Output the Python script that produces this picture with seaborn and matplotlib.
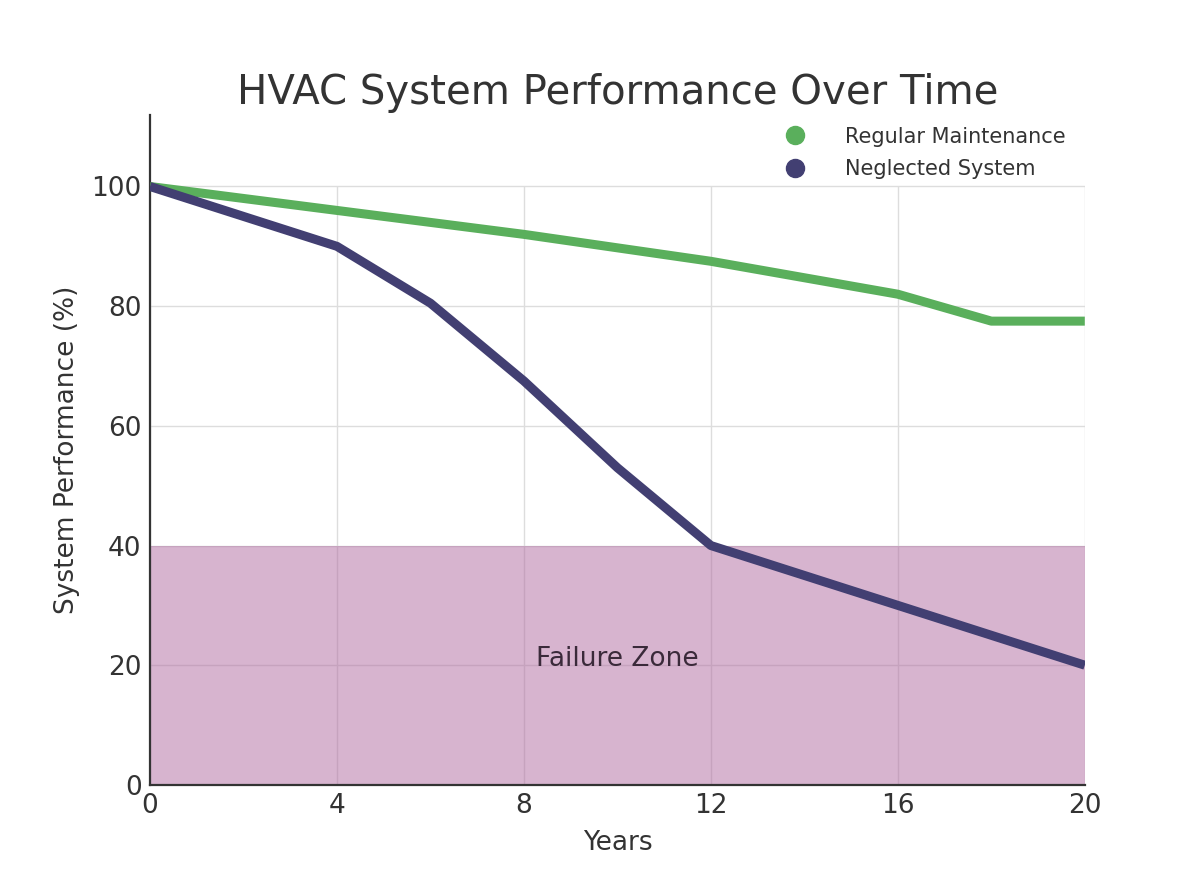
import matplotlib
matplotlib.use("Agg")
import matplotlib.pyplot as plt
import seaborn as sns
import pandas as pd

years_regular = [0, 4, 8, 12, 16, 18, 20]
perf_regular = [100, 96, 92, 87.5, 82, 77.5, 77.5]
years_neglected = [0, 4, 6, 8, 10, 12, 16, 20]
perf_neglected = [100, 90, 80.5, 67.5, 53, 40, 30, 20]
series_names = ["Regular Maintenance", "Neglected System"]
x_ticks = [0, 4, 8, 12, 16, 20]
y_ticks = [0, 20, 40, 60, 80, 100]
failure_threshold = 40

df = pd.concat([
    pd.DataFrame({"Years": years_regular, "Perf": perf_regular, "Series": series_names[0]}),
    pd.DataFrame({"Years": years_neglected, "Perf": perf_neglected, "Series": series_names[1]}),
])

sns.set_theme(style="white")
plt.rcParams['font.family'] = ['DejaVu Sans']
txt = "#333333"

fig = plt.figure(figsize=(12, 8.96), dpi=100)
ax = fig.add_axes([0.125, 0.124, 0.779, 0.748])

# grid confined to the data box
ax.vlines(x_ticks, min(y_ticks), max(y_ticks), color="#dddddd", lw=1, zorder=0)
ax.hlines(y_ticks, min(x_ticks), max(x_ticks), color="#dddddd", lw=1, zorder=0)
ax.axhspan(0, failure_threshold, color="#b06aa0", alpha=0.5, lw=0, zorder=1)

palette = {series_names[0]: "#5aaf5c", series_names[1]: "#423f72"}
sns.lineplot(data=df, x="Years", y="Perf", hue="Series", palette=palette,
             linewidth=6.5, ax=ax, legend=False, zorder=3, solid_capstyle="butt")

for name in series_names:
    ax.plot([], [], "o", color=palette[name], markersize=13, label=name)
leg = ax.legend(loc="upper right", bbox_to_anchor=(1.0, 1.01), frameon=False,
                fontsize=15, handletextpad=1.4, labelspacing=0.6, labelcolor=txt)

ax.text(10, 21, "Failure Zone", ha="center", va="center", fontsize=19, color="#3a2a3a", zorder=4)

ax.set_xlim(0, 20)
ax.set_ylim(0, 112)
ax.set_xticks(x_ticks)
ax.set_yticks(y_ticks)
ax.tick_params(axis="both", labelsize=19, colors=txt, length=0, pad=6)
for s in ["top", "right"]:
    ax.spines[s].set_visible(False)
for s in ["left", "bottom"]:
    ax.spines[s].set_color("#333333")
    ax.spines[s].set_linewidth(1.6)

ax.set_xlabel("Years", fontsize=19, color=txt, labelpad=8)
ax.set_ylabel("System Performance (%)", fontsize=19, color=txt, labelpad=8)
fig.text(0.515, 1 - 104 / 896, "HVAC System Performance Over Time", ha="center", va="baseline",
         fontsize=29, color=txt)

fig.savefig("out.png", dpi=100, facecolor="white")
